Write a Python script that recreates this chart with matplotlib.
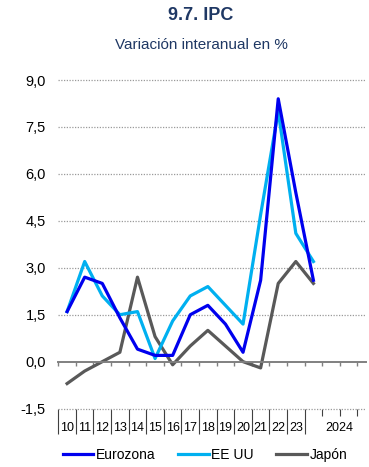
import numpy as np
import matplotlib
matplotlib.use('Agg')
import matplotlib.pyplot as plt
from matplotlib.lines import Line2D

plt.rcParams['font.family'] = ['Liberation Sans', 'DejaVu Sans']

# categories (last slot has no own label; "2024" sits under the right block)
years = ['10', '11', '12', '13', '14', '15', '16', '17', '18', '19', '20', '21', '22', '23', '']
eurozona = [1.6, 2.7, 2.5, 1.4, 0.4, 0.2, 0.2, 1.5, 1.8, 1.2, 0.3, 2.6, 8.4, 5.4, 2.6]
ee_uu = [1.6, 3.2, 2.1, 1.5, 1.6, 0.1, 1.3, 2.1, 2.4, 1.8, 1.2, 4.7, 8.0, 4.1, 3.2]
japon = [-0.7, -0.3, 0.0, 0.3, 2.7, 0.8, -0.1, 0.5, 1.0, 0.5, 0.0, -0.2, 2.5, 3.2, 2.5]
yticks = [-1.5, 0.0, 1.5, 3.0, 4.5, 6.0, 7.5, 9.0]

navy = '#1f3864'
W, H = 369, 467
fig = plt.figure(figsize=(W / 100, H / 100), dpi=100)
ax = fig.add_axes([58.3 / W, 1 - 408.6 / H, 307.9 / W, 328.6 / H])

x = np.arange(len(eurozona))
ax.plot(x, eurozona, color='#0000ee', lw=2.3, label='Eurozona', zorder=4)
ax.plot(x, ee_uu, color='#00b0f0', lw=2.3, label='EE UU', zorder=3)
ax.plot(x, japon, color='#595959', lw=2.3, label='Japón', zorder=2)

ax.set_xlim(-0.5, 17.0)
ax.set_ylim(-1.5, 9.0)
ax.set_yticks(yticks)
ax.set_yticklabels([f'{v:.1f}'.replace('.', ',') for v in yticks], fontsize=10.5)
ax.tick_params(axis='y', length=0, pad=9)
for v in yticks:
    if v != 0:
        ax.axhline(v, color='#9a9a9a', lw=0.9, ls=(0, (1, 1.2)), zorder=1, clip_on=False)

for s in ['top', 'right', 'left']:
    ax.spines[s].set_visible(False)
ax.spines['bottom'].set_position(('data', 0))
ax.spines['bottom'].set_color('#808080')
ax.spines['bottom'].set_linewidth(1.4)
bounds = np.arange(-0.5, 17.0, 1.0)
ax.set_xticks(bounds)
ax.set_xticklabels([])
ax.tick_params(axis='x', length=3, width=1, color='#808080', direction='out')

# category label band below the chart
sec = ax.secondary_xaxis(0)
sec.spines['bottom'].set_visible(False)
sec.set_xticks(np.arange(-0.5, 14.0, 1.0))
sec.set_xticklabels([])
sec.tick_params(axis='x', which='major', length=18, width=0.8, color='#404040')
label_pos = list(range(len(years) - 1)) + [15.5]
label_txt = years[:-1] + ['2024']
sec.set_xticks(label_pos, minor=True)
sec.set_xticklabels(label_txt, minor=True, fontsize=9)
sec.tick_params(axis='x', which='minor', length=0, pad=10)

sec2 = ax.secondary_xaxis(0)
sec2.spines['bottom'].set_visible(False)
sec2.set_xticks([14.5, 15.5, 16.5])
sec2.set_xticklabels([])
sec2.tick_params(axis='x', length=5, width=0.8, color='#404040')

fig.text(201 / W, 1 - 16 / H, '9.7. IPC', ha='center', va='center',
         fontsize=13, fontweight='bold', color=navy)
fig.text(201 / W, 1 - 45 / H, 'Variación interanual en %', ha='center', va='center',
         fontsize=11, color=navy)

handles = [Line2D([], [], color='#0000ee', lw=2.3),
           Line2D([], [], color='#00b0f0', lw=2.3),
           Line2D([], [], color='#595959', lw=2.3)]
fig.legend(handles, ['Eurozona', 'EE UU', 'Japón'], loc='center',
           bbox_to_anchor=(205 / W, 1 - 455 / H), ncol=3, frameon=False,
           fontsize=10, handlelength=2.2, handletextpad=0.2, columnspacing=1.6)

fig.savefig('out.png', dpi=100)
